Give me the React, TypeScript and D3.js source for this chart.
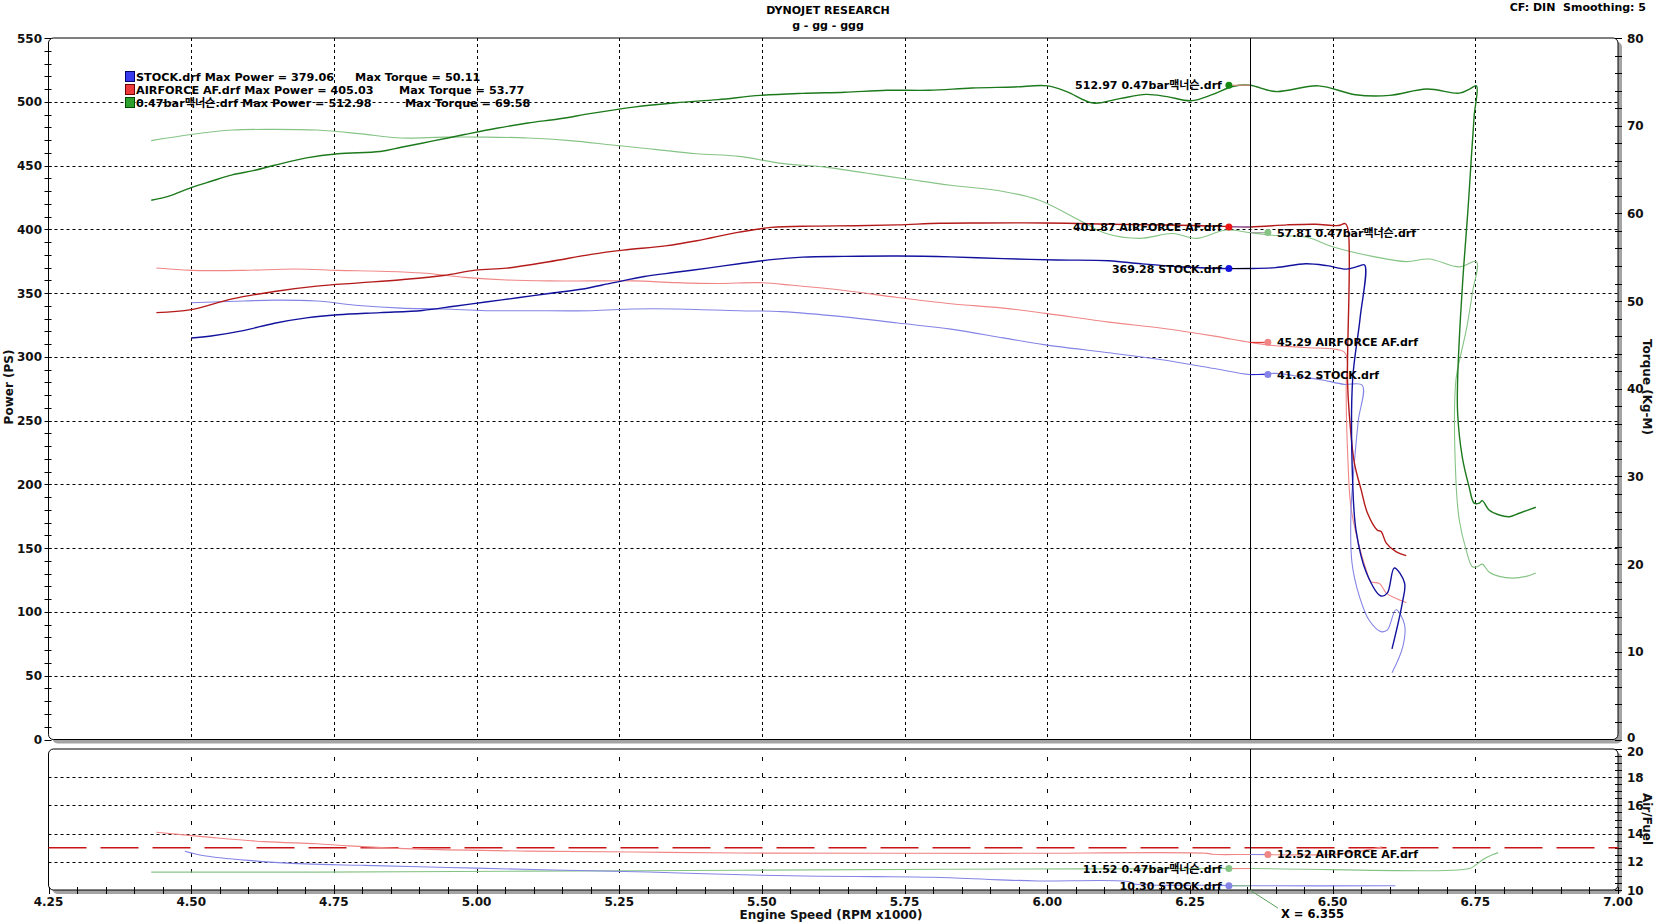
import React from 'react';
import * as d3 from 'd3';

const W = 1657;
const H = 923;

// ---------- DATA ----------
const fileNames = ['STOCK.drf', 'AIRFORCE AF.drf', '0.47bar맥너슨.drf'];
const maxPower = ['379.06', '405.03', '512.98'];
const maxTorque = ['50.11', '53.77', '69.58'];

const cursorRpm = 6.355;
const cursorPower = [369.28, 401.87, 512.97];
const cursorTorque = [41.62, 45.29, 57.81];
const cursorAfr = [10.3, 12.52, 11.52];
const afrTarget = 13.0;

const xTickLabels = ['4.25', '4.50', '4.75', '5.00', '5.25', '5.50', '5.75', '6.00', '6.25', '6.50', '6.75', '7.00'];
const powerTickLabels = [0, 50, 100, 150, 200, 250, 300, 350, 400, 450, 500, 550];
const torqueTickLabels = [0, 10, 20, 30, 40, 50, 60, 70, 80];
const afrTickLabels = [10, 12, 14, 16, 18, 20];

const stockPower: [number, number][] = [
  [4.5, 314.8], [4.535, 316.4], [4.591, 320.6], [4.646, 326.4], [4.702, 330.6], [4.757, 333], [4.831, 334.7],
  [4.905, 336.4], [4.961, 339.7], [5.016, 343], [5.072, 346.3], [5.127, 349.7], [5.183, 353], [5.238, 358],
  [5.294, 363], [5.349, 366.3], [5.405, 369.6], [5.46, 373], [5.516, 376.2], [5.571, 378.2], [5.645, 378.8],
  [5.738, 379.06], [5.831, 378.4], [5.923, 377], [6.016, 376], [6.108, 375.4], [6.164, 373], [6.238, 370.4],
  [6.3, 369.3], [6.355, 369.28], [6.4, 370], [6.453, 373], [6.49, 371.5], [6.524, 368.8], [6.545, 371],
  [6.556, 372], [6.548, 330], [6.535, 282], [6.535, 203], [6.541, 164], [6.559, 131], [6.585, 112.5],
  [6.596, 115], [6.608, 134.5], [6.626, 122.7], [6.622, 107], [6.604, 71],
];

const airforcePower: [number, number][] = [
  [4.439, 334.7], [4.5, 337], [4.572, 345.5], [4.646, 351.3], [4.72, 355.5], [4.794, 358], [4.868, 360.5],
  [4.942, 363.8], [4.998, 368], [5.053, 369.6], [5.127, 374.6], [5.201, 380.4], [5.257, 383.7], [5.331, 387],
  [5.386, 391], [5.46, 397.8], [5.516, 401.5], [5.59, 402.5], [5.664, 402.8], [5.738, 403.5], [5.812, 404.8],
  [5.886, 405], [5.96, 405.03], [6.034, 404.8], [6.108, 404], [6.182, 403.5], [6.256, 403], [6.355, 401.87],
  [6.42, 403.5], [6.47, 404], [6.51, 403], [6.522, 404.5], [6.527, 400], [6.526, 282], [6.529, 256],
  [6.538, 217], [6.55, 195.7], [6.561, 177.6], [6.578, 164.3], [6.585, 163], [6.594, 154], [6.611, 147.3],
  [6.629, 144.2],
];

const boostPower: [number, number][] = [
  [4.43, 422.8], [4.461, 426], [4.5, 432.7], [4.535, 437.7], [4.572, 442.7], [4.609, 446], [4.646, 450.2],
  [4.702, 456], [4.757, 459.3], [4.831, 461], [4.868, 464.3], [4.924, 469.3], [4.979, 474.3], [5.035, 479.2],
  [5.09, 483.4], [5.146, 486.7], [5.201, 490.9], [5.275, 495.8], [5.349, 499.2], [5.423, 501.7], [5.497, 505],
  [5.571, 506.6], [5.645, 507.5], [5.719, 509], [5.793, 509], [5.868, 510.8], [5.942, 511.6], [6.0, 512.5],
  [6.034, 508], [6.08, 499], [6.127, 502.5], [6.173, 505.8], [6.21, 504], [6.252, 500.8], [6.29, 505.8],
  [6.325, 512], [6.355, 512.97], [6.4, 508], [6.475, 512.5], [6.54, 505.5], [6.6, 505], [6.665, 510],
  [6.722, 506.8], [6.74, 510], [6.752, 512.5], [6.748, 489], [6.743, 456], [6.737, 414.5], [6.73, 373],
  [6.724, 331], [6.719, 282], [6.719, 256], [6.727, 221.8], [6.739, 198.3], [6.748, 185.3], [6.757, 185.3],
  [6.762, 187.3], [6.774, 180], [6.792, 176], [6.81, 174.7], [6.827, 177.4], [6.856, 182.1],
];

const stockTorque: [number, number][] = [
  [4.5, 49.8], [4.591, 50.0], [4.646, 50.11], [4.72, 50.0], [4.794, 49.5], [4.868, 49.2], [4.942, 49.1],
  [5.016, 48.9], [5.09, 48.9], [5.201, 48.9], [5.275, 49.1], [5.349, 49.1], [5.46, 48.9], [5.534, 48.8],
  [5.645, 48.2], [5.738, 47.5], [5.831, 46.8], [5.923, 45.8], [5.997, 45.0], [6.108, 44.1], [6.201, 43.3],
  [6.293, 42.3], [6.355, 41.62], [6.4, 41.75], [6.45, 41.3], [6.482, 41.0], [6.52, 40.5], [6.552, 40.4],
  [6.545, 36.4], [6.538, 31.5], [6.532, 25.8], [6.534, 20.1], [6.547, 16.3], [6.564, 13.6], [6.585, 12.3],
  [6.596, 12.5], [6.611, 14.8], [6.626, 13.1], [6.623, 10.6], [6.604, 7.6],
];

const airforceTorque: [number, number][] = [
  [4.439, 53.77], [4.5, 53.5], [4.591, 53.5], [4.683, 53.66], [4.757, 53.5], [4.831, 53.4], [4.905, 53.2],
  [4.979, 52.7], [5.053, 52.4], [5.127, 52.3], [5.201, 52.3], [5.275, 52.3], [5.349, 52.1], [5.423, 52.0],
  [5.497, 52.1], [5.553, 51.8], [5.645, 51.2], [5.738, 50.4], [5.831, 49.7], [5.923, 49.2], [5.997, 48.6],
  [6.108, 47.6], [6.201, 46.9], [6.293, 46.0], [6.355, 45.29], [6.4, 44.9], [6.453, 44.7], [6.52, 44.2],
  [6.526, 43], [6.524, 41], [6.527, 31.5], [6.532, 26.5], [6.544, 22.7], [6.559, 19.3], [6.567, 18.0],
  [6.582, 17.8], [6.594, 16.7], [6.611, 16.1], [6.629, 15.6],
];

const boostTorque: [number, number][] = [
  [4.43, 68.3], [4.5, 69.0], [4.572, 69.5], [4.646, 69.58], [4.72, 69.5], [4.794, 69.1], [4.868, 68.6],
  [4.942, 68.7], [5.016, 68.7], [5.09, 68.6], [5.164, 68.3], [5.238, 67.8], [5.312, 67.3], [5.386, 66.8],
  [5.46, 66.5], [5.534, 65.7], [5.608, 65.3], [5.682, 64.6], [5.756, 63.9], [5.831, 63.2], [5.923, 62.5],
  [5.986, 61.5], [6.057, 59.2], [6.103, 57.7], [6.162, 57.15], [6.22, 57.7], [6.261, 57.15], [6.313, 58.1],
  [6.355, 57.81], [6.395, 57.5], [6.453, 57.3], [6.5, 56.2], [6.57, 55.1], [6.629, 54.5], [6.669, 54.8],
  [6.722, 53.9], [6.752, 54.5], [6.745, 51], [6.735, 47], [6.725, 44], [6.716, 41], [6.716, 29.6],
  [6.722, 25], [6.734, 21.6], [6.745, 19.7], [6.754, 19.7], [6.762, 20], [6.774, 19.1], [6.792, 18.6],
  [6.815, 18.4], [6.839, 18.6], [6.856, 19.0],
];

const stockAfr: [number, number][] = [
  [4.489, 12.75], [4.52, 12.45], [4.6, 12.1], [4.7, 11.85], [4.8, 11.75], [4.9, 11.65], [5.0, 11.55],
  [5.1, 11.45], [5.2, 11.36], [5.3, 11.28], [5.4, 11.15], [5.5, 11.05], [5.6, 10.98], [5.7, 10.95],
  [5.8, 10.9], [5.916, 10.72], [5.983, 10.64], [6.144, 10.59], [6.15, 10.45], [6.3, 10.33], [6.355, 10.3],
  [6.61, 10.3],
];

const airforceAfr: [number, number][] = [
  [4.439, 14.1], [4.535, 13.73], [4.628, 13.43], [4.72, 13.28], [4.776, 13.13], [4.905, 12.9], [5.09, 12.76],
  [5.275, 12.69], [5.46, 12.62], [5.916, 12.6], [6.28, 12.6], [6.29, 12.53], [6.355, 12.52], [6.5, 12.52],
  [6.54, 12.7], [6.587, 13.06],
];

const boostAfr: [number, number][] = [
  [4.43, 11.27], [4.72, 11.27], [5.09, 11.34], [5.46, 11.4], [5.83, 11.47], [6.06, 11.5], [6.355, 11.52],
  [6.74, 11.53], [6.75, 11.75], [6.765, 12.2], [6.78, 12.5], [6.79, 12.65],
];

// ---------- LAYOUT ----------
const L = 48.5;
const R = 1618;
const mainTop = 38;
const mainBottom = 739.5;
const afrTop = 749;
const afrBottom = 890;
const FONT = "'DejaVu Sans', 'Noto Sans CJK KR', sans-serif";

const navy = '#12129e';
const lav = '#8484e6';
const dred = '#b41a1a';
const salmon = '#f08686';
const dgreen = '#1c7a1c';
const lgreen = '#86c486';

export default function App() {
  const x = d3.scaleLinear().domain([4.25, 7]).range([L, R]);
  const yP = d3.scaleLinear().domain([0, 550]).range([mainBottom, mainTop]);
  const yT = d3.scaleLinear().domain([0, 80]).range([mainBottom, mainTop]);
  const yA = d3.scaleLinear().domain([10, 20]).range([afrBottom, afrTop]);

  const mk = (ys: d3.ScaleLinear<number, number>) =>
    d3.line<[number, number]>().x(d => x(d[0])).y(d => ys(d[1])).curve(d3.curveCatmullRom.alpha(0.5));
  const lp = mk(yP);
  const lt = mk(yT);
  const la = mk(yA);

  const vGrid = d3.range(1, 11).map(i => 4.25 + i * 0.25);
  const xMinor = d3.range(0, 56).map(i => 4.25 + i * 0.05);
  const pMinor = d3.range(0, 56).map(i => i * 10);
  const tMinor = d3.range(0, 41).map(i => i * 2);
  const aMinor = d3.range(0, 21).map(i => 10 + i * 0.5);

  const cx = x(cursorRpm);
  const leftMk = cx - 21;
  const rightMk = cx + 18;

  const torqueColors = [lav, salmon, lgreen];
  const powerLead = ['#000000', lav, salmon];
  const torqueLead = ['#2020d0', '#e02020', '#a0a0a0'];

  const legendY = [77, 90, 103];
  const legendTorqueX = [355, 399, 405];
  const swatchFill = ['#3a3aee', '#ee3a3a', '#2ea02e'];
  const swatchStroke = ['#00006a', '#6a0000', '#004a00'];

  return (
    <svg width={W} height={H} style={{ position: 'absolute', left: 0, top: 0, background: '#fff' }}
      fontFamily={FONT} fontWeight="bold">
      {/* Titles */}
      <text x={828} y={13.5} textAnchor="middle" fontSize={11}>DYNOJET RESEARCH</text>
      <text x={828} y={28.5} textAnchor="middle" fontSize={11}>g - gg - ggg</text>
      <text x={1646} y={11} textAnchor="end" fontSize={11} style={{ whiteSpace: 'pre' }}>CF: DIN  Smoothing: 5</text>

      {/* Panels */}
      <rect x={L + 4} y={mainTop + 4} width={R - L} height={mainBottom - mainTop} rx={5} fill="#a4a4a4" />
      <rect x={L} y={mainTop} width={R - L} height={mainBottom - mainTop} rx={5} fill="#fff" stroke="#000" strokeWidth={1} />
      <rect x={L + 4} y={afrTop + 4} width={R - L} height={afrBottom - afrTop} rx={5} fill="#a4a4a4" />
      <rect x={L} y={afrTop} width={R - L} height={afrBottom - afrTop} rx={5} fill="#fff" stroke="#000" strokeWidth={1} />

      {/* Main grid */}
      <g stroke="#000" strokeWidth={1} strokeDasharray="3,3">
        {powerTickLabels.filter(v => v > 0 && v < 550).map(v => (
          <line key={'hp' + v} x1={L} x2={R} y1={Math.round(yP(v)) + 0.5} y2={Math.round(yP(v)) + 0.5} />
        ))}
        {vGrid.map(v => (
          <line key={'vg' + v} x1={Math.round(x(v)) + 0.5} x2={Math.round(x(v)) + 0.5} y1={mainTop} y2={mainBottom} />
        ))}
      </g>
      {/* AFR grid */}
      <g stroke="#000" strokeWidth={1}>
        {afrTickLabels.filter(v => v > 10 && v < 20).map(v => (
          <line key={'ha' + v} x1={L} x2={R} y1={Math.round(yA(v)) + 0.5} y2={Math.round(yA(v)) + 0.5} strokeDasharray="3,3" />
        ))}
        {vGrid.map(v => (
          <line key={'va' + v} x1={Math.round(x(v)) + 0.5} x2={Math.round(x(v)) + 0.5} y1={afrTop + 8} y2={afrBottom} strokeDasharray="4,12" />
        ))}
      </g>

      {/* Axes ticks */}
      <g stroke="#000" strokeWidth={1}>
        {pMinor.map(v => (
          <line key={'pt' + v} x1={L - 4} x2={L + 3} y1={Math.round(yP(v)) + 0.5} y2={Math.round(yP(v)) + 0.5} />
        ))}
        {tMinor.map(v => (
          <line key={'tt' + v} x1={R - 3} x2={R + 4} y1={Math.round(yT(v)) + 0.5} y2={Math.round(yT(v)) + 0.5} />
        ))}
        {aMinor.map(v => (
          <line key={'at' + v} x1={R - 3} x2={R + 4} y1={Math.round(yA(v)) + 0.5} y2={Math.round(yA(v)) + 0.5} />
        ))}
        {xMinor.map(v => (
          <line key={'xt' + v} x1={Math.round(x(v)) + 0.5} x2={Math.round(x(v)) + 0.5} y1={afrBottom - 3} y2={afrBottom + 4} />
        ))}
      </g>

      {/* Axis labels */}
      <g fontSize={12} fill="#111">
        {powerTickLabels.map(v => (
          <text key={'pl' + v} x={42} y={yP(v) + 4.5} textAnchor="end">{v}</text>
        ))}
        {torqueTickLabels.map(v => (
          <text key={'tl' + v} x={1627} y={yT(v) + (v === 0 ? 2 : 4.5)}>{v}</text>
        ))}
        {afrTickLabels.map(v => (
          <text key={'al' + v} x={1627} y={yA(v) + (v === 20 ? 6.5 : 4.5)}>{v}</text>
        ))}
        {xTickLabels.map(v => (
          <text key={'xl' + v} x={x(+v)} y={906} textAnchor="middle">{v}</text>
        ))}
        <text transform="translate(13,387) rotate(-90)" textAnchor="middle">Power (PS)</text>
        <text transform="translate(1643,387) rotate(90)" textAnchor="middle">Torque (Kg-M)</text>
        <text transform="translate(1643,819) rotate(90)" textAnchor="middle">Air/Fuel</text>
        <text x={831} y={919} textAnchor="middle">Engine Speed (RPM x1000)</text>
      </g>

      {/* AFR target line */}
      <line x1={L} x2={R} y1={yA(afrTarget)} y2={yA(afrTarget)} stroke="#c81414" strokeWidth={1.6} strokeDasharray="38,14" />

      {/* Curves: torque (light) */}
      <g fill="none" strokeWidth={1.1} strokeLinejoin="round">
        <path d={lt(boostTorque) || ''} stroke={lgreen} />
        <path d={lt(airforceTorque) || ''} stroke={salmon} />
        <path d={lt(stockTorque) || ''} stroke={lav} />
        <path d={la(boostAfr) || ''} stroke={lgreen} />
        <path d={la(airforceAfr) || ''} stroke={salmon} />
        <path d={la(stockAfr) || ''} stroke={lav} />
      </g>
      {/* Curves: power (dark) */}
      <g fill="none" strokeWidth={1.4} strokeLinejoin="round">
        <path d={lp(boostPower) || ''} stroke={dgreen} />
        <path d={lp(airforcePower) || ''} stroke={dred} />
        <path d={lp(stockPower) || ''} stroke={navy} />
      </g>

      {/* Cursor */}
      <line x1={Math.round(cx) + 0.5} x2={Math.round(cx) + 0.5} y1={mainTop} y2={mainBottom} stroke="#000" strokeWidth={1} />
      <line x1={Math.round(cx) + 0.5} x2={Math.round(cx) + 0.5} y1={afrTop} y2={afrBottom} stroke="#000" strokeWidth={1} />
      <line x1={cx} y1={afrBottom} x2={cx + 28} y2={afrBottom + 18} stroke="#5aa05a" strokeWidth={1} />
      <text x={1281} y={918} fontSize={11.5}>X = 6.355</text>

      {/* Cursor value labels */}
      <g fontSize={11}>
        {cursorPower.map((v, i) => (
          <g key={'cp' + i}>
            <line x1={leftMk} x2={cx} y1={yP(v)} y2={yP(v)} stroke={powerLead[i]} strokeWidth={1} />
            <circle cx={leftMk} cy={yP(v)} r={3.5} fill={['#1414e0', '#ee1414', '#148a14'][i]} />
            <text x={leftMk - 7} y={yP(v) + 4} textAnchor="end">{v.toFixed(2)} {fileNames[i]}</text>
          </g>
        ))}
        {cursorTorque.map((v, i) => (
          <g key={'ct' + i}>
            <line x1={cx} x2={rightMk} y1={yT(v)} y2={yT(v)} stroke={torqueLead[i]} strokeWidth={1} />
            <circle cx={rightMk} cy={yT(v)} r={3.5} fill={torqueColors[i]} />
            <text x={rightMk + 9} y={yT(v) + 4}>{v.toFixed(2)} {fileNames[i]}</text>
          </g>
        ))}
        {/* AFR labels */}
        <line x1={leftMk} x2={cx} y1={yA(cursorAfr[0])} y2={yA(cursorAfr[0])} stroke={lgreen} />
        <circle cx={leftMk} cy={yA(cursorAfr[0])} r={3.5} fill={lav} />
        <text x={leftMk - 7} y={yA(cursorAfr[0]) + 4} textAnchor="end">{cursorAfr[0].toFixed(2)} {fileNames[0]}</text>
        <line x1={leftMk} x2={cx} y1={yA(cursorAfr[2])} y2={yA(cursorAfr[2])} stroke={salmon} />
        <circle cx={leftMk} cy={yA(cursorAfr[2])} r={3.5} fill={lgreen} />
        <text x={leftMk - 7} y={yA(cursorAfr[2]) + 4} textAnchor="end">{cursorAfr[2].toFixed(2)} {fileNames[2]}</text>
        <line x1={cx} x2={rightMk} y1={yA(cursorAfr[1])} y2={yA(cursorAfr[1])} stroke={lav} />
        <circle cx={rightMk} cy={yA(cursorAfr[1])} r={3.5} fill={salmon} />
        <text x={rightMk + 9} y={yA(cursorAfr[1]) + 4}>{cursorAfr[1].toFixed(2)} {fileNames[1]}</text>
      </g>

      {/* Legend */}
      <g fontSize={11.2}>
        {fileNames.map((f, i) => (
          <g key={'lg' + i}>
            <rect x={125.5} y={legendY[i] - 5.5} width={9} height={10} fill={swatchFill[i]} stroke={swatchStroke[i]} strokeWidth={1} />
            <text x={136} y={legendY[i] + 4}>{f} Max Power = {maxPower[i]}</text>
            <text x={legendTorqueX[i]} y={legendY[i] + 4}>Max Torque = {maxTorque[i]}</text>
          </g>
        ))}
      </g>
    </svg>
  );
}
